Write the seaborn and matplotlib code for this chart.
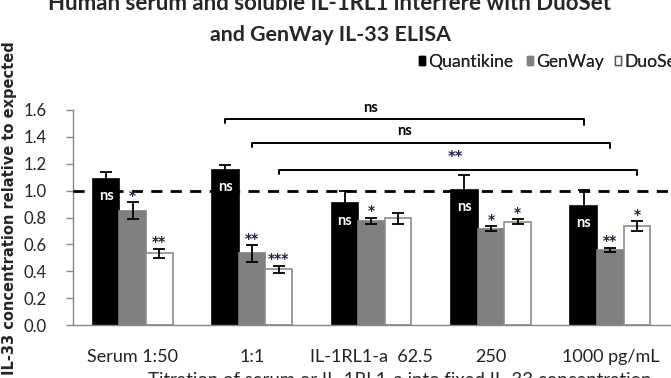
import matplotlib
matplotlib.use("Agg")
import matplotlib.pyplot as plt
from matplotlib.patches import Patch
import numpy as np
import pandas as pd
import seaborn as sns

sns.set_theme(style="white")
plt.rcParams['font.family'] = ['Lato', 'DejaVu Sans']

# data
categories = ["Serum 1:50", "1:1", "IL-1RL1-a  62.5", "250", "1000 pg/mL"]
series = ["Quantikine", "GenWay", "DuoSet"]
quantikine = [1.09, 1.154, 0.906, 1.005, 0.886]
genway = [0.85, 0.533, 0.774, 0.717, 0.558]
duoset = [0.534, 0.414, 0.794, 0.769, 0.737]
quantikine_err = [0.045, 0.04, 0.09, 0.11, 0.12]
genway_err = [0.062, 0.063, 0.025, 0.02, 0.018]
duoset_err = [0.035, 0.028, 0.04, 0.017, 0.035]
quantikine_sig = ["ns", "ns", "ns", "ns", "ns"]
genway_sig = ["*", "**", "*", "*", "**"]
duoset_sig = ["**", "***", "", "*", "*"]

df = pd.DataFrame({
    "category": categories * 3,
    "series": [s for s in series for _ in categories],
    "value": quantikine + genway + duoset,
})
errs = [quantikine_err, genway_err, duoset_err]
sigs = [quantikine_sig, genway_sig, duoset_sig]

colors = ["#000000", "#808080", "#ffffff"]
edges = ["#000000", "#808080", "#8c8c8c"]

W, H = 671, 378


def text_width(fig, txt):
    r = fig.canvas.get_renderer()
    return txt.get_window_extent(renderer=r).width


def fit_width(fig, txt, width_px):
    # scale the font so the text spans about width_px pixels
    txt.set_fontsize(txt.get_fontsize() * width_px / text_width(fig, txt))


fig = plt.figure(figsize=(W / 100, H / 100), dpi=100)
ax = fig.add_axes([0.1088, 0.1402, 0.8897, 0.5688])

sns.barplot(data=df, x="category", y="value", hue="series", hue_order=series,
            order=categories, palette=colors, width=0.67, saturation=1,
            errorbar=None, legend=False, ax=ax)

bar_conts = list(ax.containers)
centers = []
for k, cont in enumerate(bar_conts):
    xs = []
    for bar in cont:
        bar.set_edgecolor(edges[k])
        bar.set_linewidth(1.2)
        xs.append(bar.get_x() + bar.get_width() / 2)
    centers.append(xs)
    vals = [b.get_height() for b in cont]
    ax.errorbar(xs, vals, yerr=errs[k], fmt="none", ecolor="black",
                elinewidth=1.3, capsize=4, capthick=1.3, zorder=5)
    for x, v, e, s in zip(xs, vals, errs[k], sigs[k]):
        if not s:
            continue
        if k == 0:
            ax.text(x, v - 0.13, s, color="white", ha="center", va="center",
                    fontsize=10.5, fontweight="bold", zorder=6)
        else:
            ax.text(x, v + e - 0.005, s, color="#202048", ha="center",
                    va="bottom", fontsize=10, fontweight="bold", zorder=6,
                    family="DejaVu Sans")

# reference line at 1.0
ax.axhline(1.0, color="black", linestyle=(0, (4, 3)), linewidth=2, zorder=4)

# brackets between 1:1 and 1000 pg/mL
bracket_levels = [1.53, 1.357, 1.154]
bracket_labels = ["ns", "ns", "**"]
label_x = [1.99, 2.28, 2.70]
for k in range(3):
    x0, x1 = centers[k][1], centers[k][4]
    h = bracket_levels[k]
    ax.plot([x0, x0, x1, x1], [h - 0.03, h, h, h - 0.04], color="black",
            linewidth=1.4, zorder=5, clip_on=False)
    star = bracket_labels[k] == "**"
    ax.text(label_x[k], h + 0.035, bracket_labels[k], ha="center",
            va="bottom", fontsize=10.5, fontweight="bold",
            color="#202048" if star else "black",
            family="DejaVu Sans" if star else "Lato")

ax.set_ylim(0, 1.6)
ax.set_xlim(-0.5, 4.5)
ax.set_yticks(np.arange(0, 1.61, 0.2))
ax.set_yticklabels([f"{t:.1f}" for t in np.arange(0, 1.61, 0.2)])
ax.set_xticks(range(5))
ax.set_xticklabels(categories)
ax.set_xticks(np.arange(-0.5, 4.6, 1), minor=True)
ax.tick_params(axis="x", which="major", length=0, pad=17, labelsize=10.5,
               labelcolor="#222222")
ax.tick_params(axis="x", which="minor", length=5, color="#888888", width=1)
ax.tick_params(axis="y", length=5, color="#888888", width=1, labelsize=12,
               left=True, pad=14, labelcolor="#222222")
ax.set_xlabel("")
ax.set_ylabel("")
sns.despine(ax=ax)
for side in ["left", "bottom"]:
    ax.spines[side].set_color("#888888")
    ax.spines[side].set_linewidth(1)

# tick labels: "Serum 1:50" is about 92 px wide in the reference
fig.canvas.draw()
w0 = text_width(fig, ax.get_xticklabels()[0])
ax.tick_params(axis="x", which="major", labelsize=10.5 * 92 / w0)

# legend: one entry per series, squares at fixed pixel columns
handles = [Patch(facecolor=c, edgecolor=e, label=s)
           for c, e, s in zip(colors, ["#000000", "#808080", "#555555"], series)]
probe = fig.text(0, 0, series[0], fontsize=10)
leg_size = 10 * 85 / text_width(fig, probe)
probe.remove()
em = leg_size * 100 / 72
leg_x = [419, 527, 615]
for hnd, x in zip(handles, leg_x):
    leg = fig.legend(handles=[hnd], loc="center left",
                     bbox_to_anchor=(x / W, 1 - 62 / H), frameon=False,
                     fontsize=leg_size, handlelength=6 / em,
                     handleheight=7 / em, handletextpad=3 / em,
                     borderaxespad=0, borderpad=0, labelcolor="#222222")
    fig.add_artist(leg)

t1 = fig.text(330 / W, 1 - 10 / H,
              "Human serum and soluble IL-1RL1 interfere with DuoSet",
              ha="center", va="baseline", fontsize=12, fontweight="bold")
t2 = fig.text(330 / W, 1 - 41 / H, "and GenWay IL-33 ELISA",
              ha="center", va="baseline", fontsize=12, fontweight="bold")
fit_width(fig, t1, 561)
fit_width(fig, t2, 240)

fig.text(10 / W, 1 - 208 / H, "IL-33 concentration relative to expected",
         rotation=90, ha="center", va="center", fontsize=10.5,
         fontweight="bold", family="DejaVu Sans")
xl = fig.text(400 / W, 1 - 372 / H,
              "Titration of serum or IL-1RL1-a into fixed IL-33 concentration",
              ha="center", va="top", fontsize=11)
fit_width(fig, xl, 505)

fig.savefig("out.png", dpi=100)
